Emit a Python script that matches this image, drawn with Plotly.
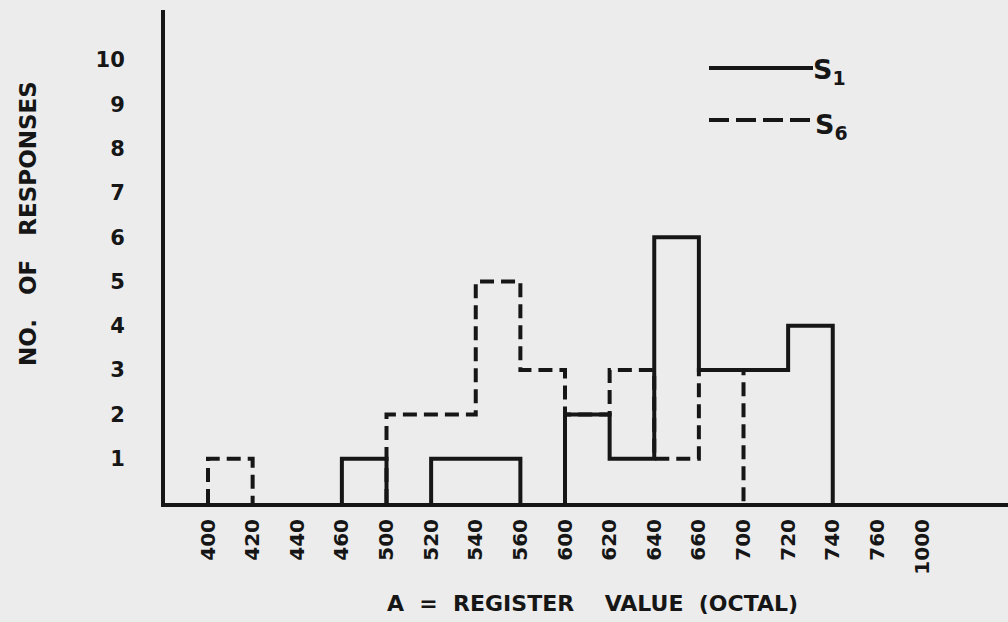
import plotly.graph_objects as go

# bin edges (octal register values) shown as x tick labels
bin_edges = ["400", "420", "440", "460", "500", "520", "540", "560", "600",
             "620", "640", "660", "700", "720", "740", "760", "1000"]
# number of responses in each bin (bin i lies between edge i and edge i+1)
s1_counts = [0, 0, 0, 1, 0, 1, 1, 0, 2, 1, 6, 3, 3, 4, 0, 0]
s6_counts = [1, 0, 0, 0, 2, 2, 5, 3, 2, 3, 1, 3, 0, 0, 0, 0]
y_ticks = list(range(1, 11))

INK = "#161616"
PAPER = "#ececec"
FONT = "DejaVu Sans"


def step_xy(counts):
    """Outline of each run of non-empty bins; runs are separated by gaps."""
    xs, ys = [], []
    i, n = 0, len(counts)
    while i < n:
        if counts[i] == 0:
            i += 1
            continue
        j = i
        xs.append(i)
        ys.append(0)
        while j < n and counts[j] != 0:
            xs.append(j)
            ys.append(counts[j])
            j += 1
        xs.append(j)
        ys.append(0)
        xs.append(None)
        ys.append(None)
        i = j
    return xs, ys


fig = go.Figure()

x6, y6 = step_xy(s6_counts)
fig.add_trace(go.Scatter(x=x6, y=y6, mode="lines", line_shape="hv",
                         line=dict(color=INK, width=4, dash="14px,7px"),
                         name="S6", showlegend=False, hoverinfo="skip",
                         connectgaps=False))
x1, y1 = step_xy(s1_counts)
fig.add_trace(go.Scatter(x=x1, y=y1, mode="lines", line_shape="hv",
                         line=dict(color=INK, width=4),
                         name="S1", showlegend=False, hoverinfo="skip",
                         connectgaps=False))

fig.update_layout(
    width=1008, height=622,
    margin=dict(l=165, r=0, t=10, b=119),
    paper_bgcolor=PAPER, plot_bgcolor=PAPER,
    font=dict(family=FONT, color=INK, size=20, weight="bold"),
    xaxis=dict(range=[-0.9636, 17.927], tickmode="array",
               tickvals=list(range(len(bin_edges))), ticktext=bin_edges,
               tickangle=-90, ticks="", ticklabelstandoff=4,
               showgrid=False, zeroline=False, showline=True,
               linewidth=4, linecolor=INK,
               tickfont=dict(family=FONT, size=20, color=INK, weight="bold")),
    yaxis=dict(range=[0, 11.13], tickmode="array", tickvals=y_ticks,
               ticktext=[str(v) for v in y_ticks], ticks="",
               ticklabelstandoff=32, showgrid=False, zeroline=False,
               showline=True, linewidth=4, linecolor=INK,
               tickfont=dict(family=FONT, size=21, color=INK, weight="bold")),
    showlegend=False,
)


def px_x(p):
    return (p - 165) / 843


def px_y(p):
    return (503 - p) / 493


# axis titles
fig.add_annotation(text="NO.   OF   RESPONSES", xref="paper", yref="paper",
                   x=px_x(28), y=px_y(224), textangle=-90,
                   showarrow=False, xanchor="center", yanchor="middle",
                   font=dict(family=FONT, size=23, color=INK, weight="bold"))
fig.add_annotation(text="A  =  REGISTER    VALUE  (OCTAL)", xref="paper",
                   yref="paper", x=px_x(592), y=px_y(603),
                   showarrow=False, xanchor="center", yanchor="middle",
                   font=dict(family=FONT, size=22, color=INK, weight="bold"))

# legend drawn as key lines with labels
fig.add_shape(type="line", xref="paper", yref="paper",
              x0=px_x(709), x1=px_x(813), y0=px_y(68), y1=px_y(68),
              line=dict(color=INK, width=4))
fig.add_shape(type="line", xref="paper", yref="paper",
              x0=px_x(709), x1=px_x(813), y0=px_y(120), y1=px_y(120),
              line=dict(color=INK, width=4, dash="20px,7px"))
fig.add_annotation(text="S<sub>1</sub>", xref="paper", yref="paper",
                   x=px_x(811), y=px_y(72), xanchor="left", yanchor="middle",
                   showarrow=False,
                   font=dict(family=FONT, size=27, color=INK, weight="bold"))
fig.add_annotation(text="S<sub>6</sub>", xref="paper", yref="paper",
                   x=px_x(813), y=px_y(126), xanchor="left", yanchor="middle",
                   showarrow=False,
                   font=dict(family=FONT, size=27, color=INK, weight="bold"))

fig.write_html("out.html",
               config={"displayModeBar": False},
               post_script="document.body.style.margin='0';"
                           "document.body.style.overflow='hidden';")
